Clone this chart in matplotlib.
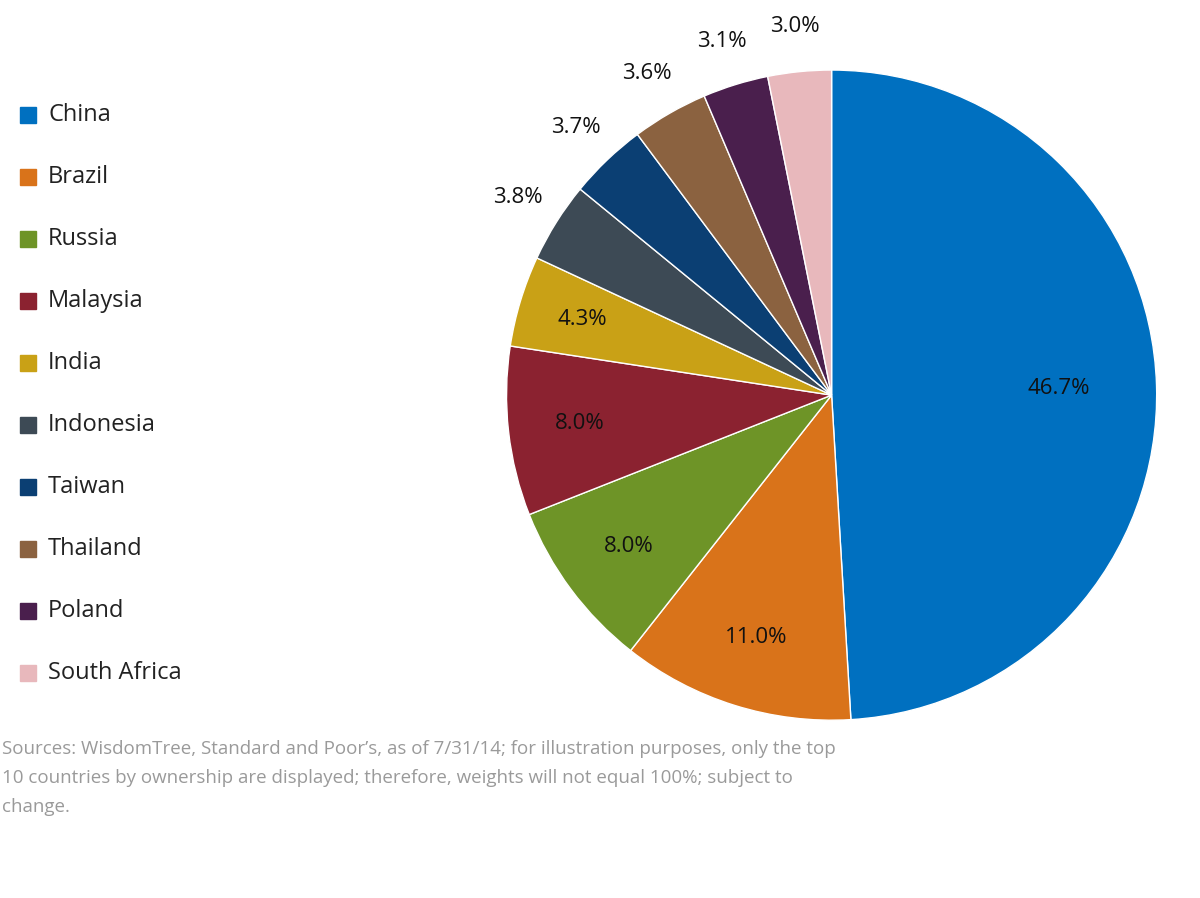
import matplotlib.pyplot as plt
import numpy as np

countries = ["China", "Brazil", "Russia", "Malaysia", "India", "Indonesia",
             "Taiwan", "Thailand", "Poland", "South Africa"]
weights = [46.7, 11.0, 8.0, 8.0, 4.3, 3.8, 3.7, 3.6, 3.1, 3.0]
colors = ["#0070C0", "#D9731A", "#6E9427", "#8B2230", "#C9A116", "#3D4A55",
          "#0B3F73", "#8B6240", "#4A1F4D", "#E8B8BC"]
inside = [True, True, True, True, True, False, False, False, False, False]

plt.rcParams['font.family'] = ['Open Sans', 'DejaVu Sans']
fig = plt.figure(figsize=(12, 8.98), dpi=100)
ax = fig.add_axes([0.422, 0.198, 0.542, 0.724])
wedges, _ = ax.pie(weights, colors=colors, startangle=90, counterclock=False,
                   wedgeprops=dict(edgecolor="white", linewidth=1))
ax.set_aspect("equal")
ax.set_xlim(-1, 1)
ax.set_ylim(-1, 1)

for w, v, ins in zip(wedges, weights, inside):
    ang = np.deg2rad((w.theta1 + w.theta2) / 2)
    r = 0.78 if ins else 1.14
    if ins and v < 5:
        r = 0.8
    if ins and v > 40:
        r = 0.7
    ax.text(r * np.cos(ang), r * np.sin(ang), f"{v:.1f}%", ha="center", va="center",
            fontsize=16, color="#111111")

for k, (c, col) in enumerate(zip(countries, colors)):
    y = 1 - (115 + k * 62) / 898
    fig.patches.append(plt.Rectangle((20 / 1200, y - 8 / 898), 16 / 1200, 16 / 898,
                                     transform=fig.transFigure, color=col))
    fig.text(48 / 1200, y, c, fontsize=17, va="center", color="#222222")

fig.text(2 / 1200, 1 - 778 / 898,
         "Sources: WisdomTree, Standard and Poor\u2019s, as of 7/31/14; for illustration purposes, only the top\n"
         "10 countries by ownership are displayed; therefore, weights will not equal 100%; subject to\n"
         "change.", fontsize=13.5, color="#9a9a9a", va="center", linespacing=1.75)

fig.savefig("out.png")
